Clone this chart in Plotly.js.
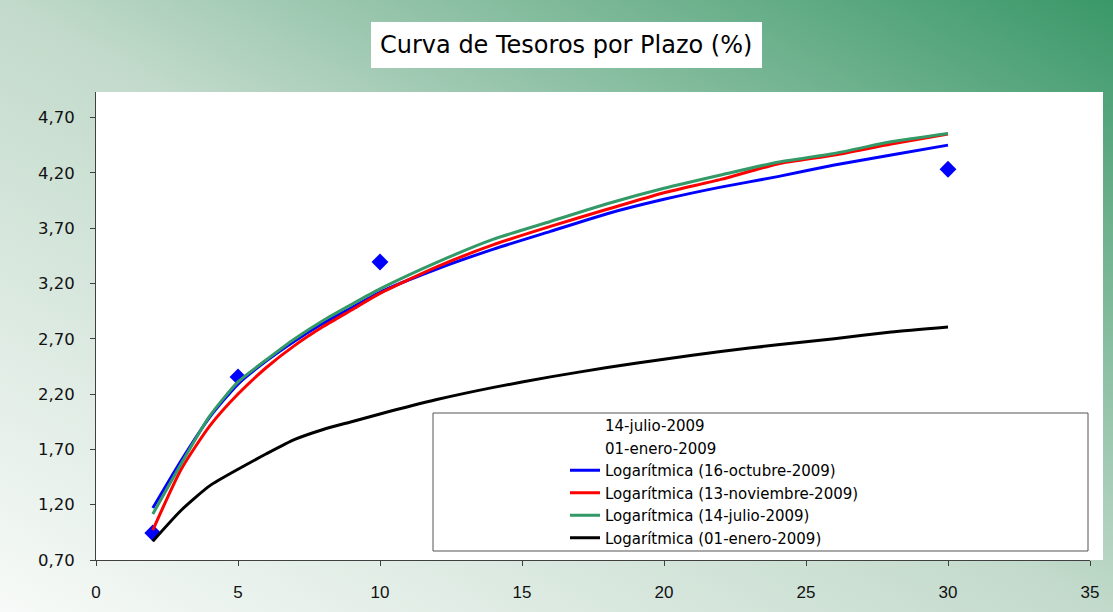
<!DOCTYPE html>
<html>
<head>
<meta charset="utf-8">
<script src="https://cdn.plot.ly/plotly-3.0.1.min.js"></script>
<style>
  html, body { margin: 0; padding: 0; }
  #chart {
    width: 1113px; height: 612px;
    background: linear-gradient(to top right, #f7faf8 0%, #c2dacb 50%, #3a9868 100%);
  }
</style>
</head>
<body>
<div id="chart"></div>
<script>
// Plazos (años) for the puntos
const plazosPuntos = [2, 5, 10, 30];
const tasas16Oct = [0.944, 2.355, 3.394, 4.232];

// Plazos
const plazos = [2, 3, 4, 5, 6, 7, 8, 9, 10, 12, 14, 16, 18, 20, 22, 24, 26, 28, 30];
const logOct = [1.17, 1.60, 1.99, 2.29, 2.50, 2.68, 2.84, 2.98, 3.12, 3.33, 3.51, 3.67, 3.83, 3.96, 4.07, 4.165, 4.27, 4.36, 4.45];
const logNov = [0.97, 1.52, 1.91, 2.20, 2.44, 2.64, 2.81, 2.96, 3.11, 3.35, 3.55, 3.715, 3.87, 4.02, 4.14, 4.28, 4.36, 4.46, 4.55];
const logJul = [1.115, 1.57, 2.00, 2.31, 2.51, 2.70, 2.865, 3.01, 3.15, 3.39, 3.60, 3.76, 3.92, 4.06, 4.18, 4.295, 4.375, 4.48, 4.555];
const logEne = [0.87, 1.15, 1.37, 1.52, 1.66, 1.79, 1.88, 1.95, 2.02, 2.15, 2.26, 2.355, 2.44, 2.515, 2.585, 2.645, 2.70, 2.76, 2.805];

const yTicks = [0.7, 1.2, 1.7, 2.2, 2.7, 3.2, 3.7, 4.2, 4.7];
const xTicks = [0, 5, 10, 15, 20, 25, 30, 35];

const W = 1113, H = 612;
const L = 96, R = 23, T = 92, B = 52;
const pw = W - L - R, ph = H - T - B;
const px = v => (v - L) / pw;
const py = v => (H - B - v) / ph;

const lineStyle = (c) => ({ color: c, width: 3, shape: 'spline', smoothing: 0.6 });

const traces = [
  { type: 'scatter', mode: 'markers', name: '16-octubre-2009', x: plazosPuntos, y: tasas16Oct,
    marker: { symbol: 'diamond', size: 13, color: '#0000ff' }, showlegend: false },
  { type: 'scatter', mode: 'markers', name: '14-julio-2009', x: [null], y: [null],
    marker: { color: 'rgba(0,0,0,0)', size: 1 } },
  { type: 'scatter', mode: 'markers', name: '01-enero-2009', x: [null], y: [null],
    marker: { color: 'rgba(0,0,0,0)', size: 1 } },
  { type: 'scatter', mode: 'lines', name: 'Logarítmica (16-octubre-2009)', x: plazos, y: logOct, line: lineStyle('#0000ff') },
  { type: 'scatter', mode: 'lines', name: 'Logarítmica (13-noviembre-2009)', x: plazos, y: logNov, line: lineStyle('#ff0000') },
  { type: 'scatter', mode: 'lines', name: 'Logarítmica (14-julio-2009)', x: plazos, y: logJul, line: lineStyle('#339966') },
  { type: 'scatter', mode: 'lines', name: 'Logarítmica (01-enero-2009)', x: plazos, y: logEne, line: lineStyle('#000000') }
];

const layout = {
  width: W, height: H,
  margin: { l: L, r: R, t: T, b: B, pad: 0 },
  paper_bgcolor: 'rgba(0,0,0,0)',
  plot_bgcolor: '#ffffff',
  separators: ',.',
  showlegend: true,
  xaxis: {
    range: [0, 35], tickvals: xTicks, ticktext: xTicks.map(String),
    showgrid: false, zeroline: false, showline: true, linecolor: '#404040', linewidth: 1,
    ticks: 'outside', ticklen: 5, tickcolor: '#404040', ticklabelstandoff: 12,
    tickfont: { family: 'Liberation Sans Narrow, Liberation Sans, sans-serif', size: 17, color: '#111' }
  },
  yaxis: {
    range: [0.7, 4.93], tickvals: yTicks, tickformat: '.2f',
    showgrid: false, zeroline: false, showline: true, linecolor: '#404040', linewidth: 1,
    ticks: 'outside', ticklen: 5, tickcolor: '#404040', ticklabelstandoff: 12,
    tickfont: { family: 'DejaVu Sans, sans-serif', size: 16.5, color: '#111' }
  },
  legend: {
    x: px(565), y: py(409), xanchor: 'left', yanchor: 'top',
    bgcolor: 'rgba(0,0,0,0)', borderwidth: 0,
    font: { family: 'DejaVu Sans, sans-serif', size: 15, color: '#000' },
    itemwidth: 30, tracegroupgap: 0
  },
  shapes: [
    { type: 'rect', xref: 'paper', yref: 'paper', x0: 0, x1: px(1103), y0: 0, y1: py(92),
      fillcolor: '#ffffff', line: { width: 0 }, layer: 'below' },
    { type: 'rect', xref: 'paper', yref: 'paper', x0: px(433), x1: px(1088), y0: py(551), y1: py(413),
      fillcolor: '#ffffff', line: { color: '#555555', width: 1 }, layer: 'below' },
    { type: 'rect', xref: 'paper', yref: 'paper', x0: px(371), x1: px(762), y0: py(68), y1: py(22),
      fillcolor: '#ffffff', line: { width: 0 } }
  ],
  annotations: [
    { text: 'Curva de Tesoros por Plazo (%)', xref: 'paper', yref: 'paper', x: px(566), y: py(45),
      xanchor: 'center', yanchor: 'middle', showarrow: false,
      font: { family: 'DejaVu Sans, sans-serif', size: 24, color: '#000' } }
  ]
};

Plotly.newPlot('chart', traces, layout, { displayModeBar: false, staticPlot: true });
</script>
</body>
</html>
